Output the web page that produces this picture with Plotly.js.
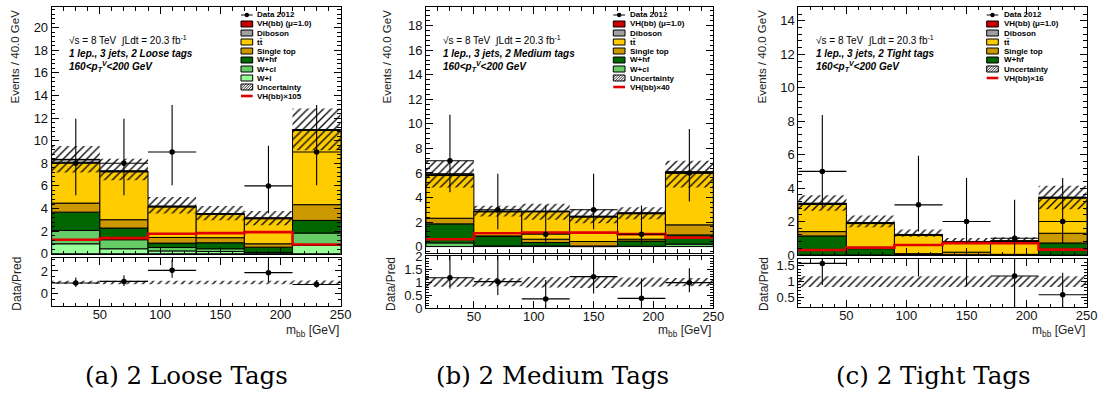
<!DOCTYPE html>
<html><head><meta charset="utf-8">
<script src="https://cdn.plot.ly/plotly-3.0.1.min.js"></script>
<style>html,body{margin:0;padding:0;background:#fff;}#chart{width:1098px;height:396px;}</style>
</head><body><div id="chart"></div>
<script>
// ---------- shared binning ----------
const binCenters = [30, 70, 110, 150, 190, 230];
const binEdges   = [10, 50, 90, 130, 170, 210, 250];

// ---------- panel (a) 2 Loose tags ----------
const wl_a  = [0.88, 0.44, 0.25, 0.20, 0.00, 0.73];
const wcl_a = [1.18, 0.80, 0.30, 0.24, 0.12, 1.10];
const whf_a = [1.62, 1.03, 0.39, 0.53, 0.46, 1.12];
const st_a  = [0.80, 0.74, 0.50, 0.45, 0.30, 1.39];
const tt_a  = [3.57, 4.24, 2.70, 2.07, 2.22, 6.56];
const db_a  = [0.28, 0.06, 0.05, 0.05, 0.05, 0.07];
const vh_a  = [0.02, 0.01, 0.02, 0.02, 0.02, 0.01];
const uncUp_a = [1.19, 1.09, 0.81, 0.67, 0.62, 1.86];
const uncDn_a = [1.16, 0.82, 0.65, 0.59, 0.65, 1.83];
const vhScaled_a = [1.24, 1.38, 1.77, 1.82, 1.91, 0.82];
const dataX_a  = [30, 70, 110, 190, 230];
const dataY_a  = [8, 8, 9, 6, 9];
const dataUp_a = [3.95, 3.95, 4.15, 3.55, 4.15];
const dataDn_a = [2.83, 2.83, 2.95, 2.42, 2.95];
const ratioY_a  = [0.95, 1.09, 2.05, 1.85, 0.82];
const ratioUp_a = [0.47, 0.54, 0.95, 1.10, 0.38];
const ratioDn_a = [0.34, 0.39, 0.65, 0.78, 0.27];
const ratioUnc_a = [0.14, 0.15, 0.15, 0.15, 0.15, 0.16];

// ---------- panel (b) 2 Medium tags ----------
const wcl_b = [0.30, 0.05, 0.05, 0.00, 0.02, 0.20];
const whf_b = [1.55, 0.77, 0.28, 0.05, 0.43, 0.75];
const st_b  = [0.46, 0.05, 0.27, 0.36, 0.15, 0.82];
const tt_b  = [3.48, 1.97, 2.24, 2.00, 2.08, 4.22];
const db_b  = [0.11, 0.02, 0.02, 0.04, 0.04, 0.08];
const vh_b  = [0.02, 0.03, 0.03, 0.03, 0.03, 0.02];
const uncUp_b = [1.07, 0.43, 0.59, 0.57, 0.46, 0.90];
const uncDn_b = [1.11, 0.44, 0.71, 0.58, 0.52, 1.28];
const vhScaled_b = [0.60, 1.09, 1.14, 1.14, 1.01, 0.73];
const dataX_b  = [30, 70, 110, 150, 190, 230];
const dataY_b  = [7, 3, 1, 3, 1, 6];
const dataUp_b = [3.74, 2.93, 2.35, 2.93, 2.35, 3.58];
const dataDn_b = [2.57, 1.58, 0.83, 1.58, 0.83, 2.33];
const ratioY_b  = [1.17, 1.02, 0.36, 1.21, 0.38, 0.98];
const ratioUp_b = [0.90, 1.03, 0.72, 1.19, 0.77, 0.55];
const ratioDn_b = [0.41, 0.51, 0.36, 0.64, 0.38, 0.37];
const ratioUnc_b = [0.18, 0.16, 0.20, 0.22, 0.18, 0.16];

// ---------- panel (c) 2 Tight tags ----------
const whf_c = [1.14, 0.38, 0.03, 0.02, 0.01, 0.72];
const st_c  = [0.26, 0.05, 0.05, 0.15, 0.03, 0.58];
const tt_c  = [1.62, 1.45, 1.10, 0.60, 0.78, 2.10];
const db_c  = [0.06, 0.03, 0.02, 0.01, 0.01, 0.04];
const vh_c  = [0.02, 0.03, 0.03, 0.03, 0.02, 0.02];
const uncUp_c = [0.48, 0.42, 0.30, 0.20, 0.21, 0.68];
const uncDn_c = [0.46, 0.28, 0.14, 0.15, 0.15, 0.72];
const vhScaled_c = [0.30, 0.44, 0.60, 0.71, 0.70, 0.32];
const dataX_c  = [30, 110, 150, 190, 230];
const dataY_c  = [5, 3, 2, 1, 2];
const dataUp_c = [3.38, 2.94, 2.60, 2.30, 2.60];
const dataDn_c = [2.16, 1.60, 1.30, 0.83, 1.30];
const ratioX_c  = [30, 110, 150, 190, 230];
const ratioY_c  = [1.58, 2.50, 2.50, 1.18, 0.58];
const ratioUp_c = [1.10, 2.40, 3.20, 2.70, 0.70];
const ratioDn_c = [0.69, 1.34, 1.65, 1.00, 0.40];
const ratioUnc_c = [0.17, 0.17, 0.17, 0.17, 0.17, 0.17];

// ---------- text ----------
const captions = ['(a) 2 Loose Tags', '(b) 2 Medium Tags', '(c) 2 Tight Tags'];
const regionLabels = ['1 lep., 3 jets, 2 Loose tags', '1 lep., 3 jets, 2 Medium tags', '1 lep., 3 jets, 2 Tight tags'];
const scaleLabels = ['VH(bb)×105', 'VH(bb)×40', 'VH(bb)×16'];

// ---------- colours ----------
const colWL = '#99ff99', colWCL = '#66cc66', colWHF = '#006600', colST = '#cc9900',
      colTT = '#ffcc00', colDB = '#a0a0a0', colVH = '#cc0000', colRed = '#e00000';

// ---------- geometry (pixels) ----------
const W = 1098, H = 396;
const fx = p => p / W, fy = p => 1 - p / H;
const geo = [
  {x0: 51.7, x1: 340.7, mTop: 7.3, mBot: 254.3, rTop: 258.3, rBot: 306, yr: [-0.05, 21.8], rr: [-1.05, 3.1], rd: 2, rminor: 0.5,
   legBox: [241, 252.7], legText: 255, txtX: 66.7, ytX: 15, dpX: 16.7, capX: 186},
  {x0: 426, x1: 713.3, mTop: 7.3, mBot: 252.7, rTop: 256, rBot: 308.3, yr: [-0.5, 19.5], rr: [0, 2], rd: 0.5, rminor: 0.1,
   legBox: [613.3, 625], legText: 628.3, txtX: 440.7, ytX: 387, dpX: 391, capX: 552},
  {x0: 798.3, x1: 1086.7, mTop: 6.7, mBot: 255, rTop: 259, rBot: 307.3, yr: [0, 14.85], rr: [0.18, 1.72], rd: 0.5, rminor: 0.1,
   legBox: [986.7, 998.3], legText: 1001.7, txtX: 814, ytX: 762, dpX: 764, capX: 933}
];

const panels = [
  {comps: [[wl_a, colWL], [wcl_a, colWCL], [whf_a, colWHF], [st_a, colST], [tt_a, colTT], [db_a, colDB], [vh_a, colVH]],
   up: uncUp_a, dn: uncDn_a, red: vhScaled_a, dx: dataX_a, dy: dataY_a, dup: dataUp_a, ddn: dataDn_a,
   rx: dataX_a, ry: ratioY_a, rup: ratioUp_a, rdn: ratioDn_a, runc: ratioUnc_a,
   legend: [['data', null, 'Data 2012'], ['box', colVH, 'VH(bb) (μ=1.0)'], ['box', colDB, 'Diboson'], ['box', colTT, 'tt\u0304'],
            ['box', colST, 'Single top'], ['box', colWHF, 'W+hf'], ['box', colWCL, 'W+cl'], ['box', colWL, 'W+l'],
            ['hatch', null, 'Uncertainty'], ['line', colRed, scaleLabels[0]]]},
  {comps: [[wcl_b, colWCL], [whf_b, colWHF], [st_b, colST], [tt_b, colTT], [db_b, colDB], [vh_b, colVH]],
   up: uncUp_b, dn: uncDn_b, red: vhScaled_b, dx: dataX_b, dy: dataY_b, dup: dataUp_b, ddn: dataDn_b,
   rx: dataX_b, ry: ratioY_b, rup: ratioUp_b, rdn: ratioDn_b, runc: ratioUnc_b,
   legend: [['data', null, 'Data 2012'], ['box', colVH, 'VH(bb) (μ=1.0)'], ['box', colDB, 'Diboson'], ['box', colTT, 'tt\u0304'],
            ['box', colST, 'Single top'], ['box', colWHF, 'W+hf'], ['box', colWCL, 'W+cl'],
            ['hatch', null, 'Uncertainty'], ['line', colRed, scaleLabels[1]]]},
  {comps: [[whf_c, colWHF], [st_c, colST], [tt_c, colTT], [db_c, colDB], [vh_c, colVH]],
   up: uncUp_c, dn: uncDn_c, red: vhScaled_c, dx: dataX_c, dy: dataY_c, dup: dataUp_c, ddn: dataDn_c,
   rx: ratioX_c, ry: ratioY_c, rup: ratioUp_c, rdn: ratioDn_c, runc: ratioUnc_c,
   legend: [['data', null, 'Data 2012'], ['box', colVH, 'VH(bb) (μ=1.0)'], ['box', colDB, 'Diboson'], ['box', colTT, 'tt\u0304'],
            ['box', colST, 'Single top'], ['box', colWHF, 'W+hf'],
            ['hatch', null, 'Uncertainty'], ['line', colRed, scaleLabels[2]]]}
];

const FONT = "'Liberation Sans', Arial, Helvetica, sans-serif";
const traces = [], shapes = [], annotations = [];
const layout = {
  width: W, height: H, margin: {l: 0, r: 0, t: 0, b: 0},
  paper_bgcolor: '#fff', plot_bgcolor: '#fff', showlegend: false, barmode: 'overlay',
  font: {family: FONT, size: 13, color: '#000'}
};
const an = n => n === 1 ? '' : String(n);
const hatchPattern = {shape: '/', fgcolor: '#000', bgcolor: 'rgba(0,0,0,0)', size: 5.5, solidity: 0.24};

function axisBase() {
  return {showline: true, linecolor: '#000', linewidth: 1, mirror: 'allticks', ticks: 'inside', ticklen: 7,
          tickcolor: '#000', tickwidth: 1, showgrid: false, zeroline: false, fixedrange: true,
          tickfont: {family: FONT, size: 13, color: '#111'}};
}

panels.forEach((P, k) => {
  const g = geo[k];
  const mi = 2 * k + 1, ri = 2 * k + 2;
  const xm = 'x' + an(mi), ym = 'y' + an(mi), xr = 'x' + an(ri), yr = 'y' + an(ri);

  const base = binCenters.map(() => 0);
  P.comps.forEach(([vals, col]) => {
    traces.push({type: 'bar', x: binCenters, y: vals, base: base.slice(), width: 40, xaxis: xm, yaxis: ym,
      marker: {color: col, line: {color: '#000', width: 1}}, hoverinfo: 'skip'});
    vals.forEach((v, i) => base[i] += v);
  });
  const total = base;
  traces.push({type: 'bar', x: binCenters, y: total.map((t, i) => P.up[i] + P.dn[i]), base: total.map((t, i) => t - P.dn[i]),
    width: 40, xaxis: xm, yaxis: ym, hoverinfo: 'skip',
    marker: {color: 'rgba(0,0,0,0)', line: {width: 0}, pattern: hatchPattern}});
  traces.push({type: 'scatter', mode: 'lines', x: binEdges, y: P.red.concat([P.red[P.red.length - 1]]),
    line: {shape: 'hv', color: colRed, width: 2.6}, xaxis: xm, yaxis: ym, hoverinfo: 'skip'});
  traces.push({type: 'scatter', mode: 'markers', x: P.dx, y: P.dy, xaxis: xm, yaxis: ym,
    marker: {color: '#000', size: 5.5},
    error_y: {type: 'data', symmetric: false, array: P.dup, arrayminus: P.ddn, width: 0, thickness: 1.1, color: '#000'},
    error_x: {type: 'constant', value: 20, width: 0, thickness: 1.1, color: '#000'}});

  traces.push({type: 'bar', x: binCenters, y: P.runc.map(u => 2 * u), base: P.runc.map(u => 1 - u),
    width: 40, xaxis: xr, yaxis: yr, hoverinfo: 'skip',
    marker: {color: 'rgba(0,0,0,0)', line: {width: 0}, pattern: hatchPattern}});
  traces.push({type: 'scatter', mode: 'markers', x: P.rx, y: P.ry, xaxis: xr, yaxis: yr,
    marker: {color: '#000', size: 5.5},
    error_y: {type: 'data', symmetric: false, array: P.rup, arrayminus: P.rdn, width: 0, thickness: 1.1, color: '#000'},
    error_x: {type: 'constant', value: 20, width: 0, thickness: 1.1, color: '#000'}});

  const xminor = {ticks: 'inside', ticklen: 3.5, dtick: 10, tick0: 0, tickcolor: '#000'};
  layout['xaxis' + an(mi)] = Object.assign(axisBase(), {domain: [fx(g.x0), fx(g.x1)], anchor: ym, range: [10, 250],
    dtick: 50, tick0: 0, showticklabels: false, minor: xminor});
  layout['yaxis' + an(mi)] = Object.assign(axisBase(), {domain: [fy(g.mBot), fy(g.mTop)], anchor: xm, range: g.yr,
    dtick: 2, tick0: 0, minor: {ticks: 'inside', ticklen: 3.5, dtick: 0.4, tick0: 0, tickcolor: '#000'}});
  layout['xaxis' + an(ri)] = Object.assign(axisBase(), {domain: [fx(g.x0), fx(g.x1)], anchor: yr, range: [10, 250],
    dtick: 50, tick0: 0, showticklabels: true, ticklabelstandoff: -4, minor: xminor});
  layout['yaxis' + an(ri)] = Object.assign(axisBase(), {domain: [fy(g.rBot), fy(g.rTop)], anchor: xr, range: g.rr,
    dtick: g.rd, tick0: 0, ticklen: 6, minor: {ticks: 'inside', ticklen: 3, dtick: g.rminor, tick0: 0, tickcolor: '#000'}});

  const A = (text, x, y, o) => annotations.push(Object.assign({text, x: fx(x), y: fy(y), xref: 'paper', yref: 'paper',
    showarrow: false, xanchor: 'left', yanchor: 'middle', font: {family: FONT, size: 10, color: '#000'}}, o || {}));
  A('√s = 8 TeV  ∫Ldt = 20.3 fb<sup>-1</sup>', g.txtX, 40);
  A('<b><i>' + regionLabels[k] + '</i></b>', g.txtX, 53.3);
  A('<b><i>160&lt;p<sub>T</sub><sup>V</sup>&lt;200 GeV</i></b>', g.txtX, 66.5);
  A('Events / 40.0 GeV', g.ytX, 7.5, {textangle: -90, xanchor: 'center', yanchor: 'top', font: {family: FONT, size: 11.5, color: '#222'}});
  A('Data/Pred', g.dpX, 284, {textangle: -90, xanchor: 'center', yanchor: 'middle', font: {family: FONT, size: 12, color: '#222'}});
  A('m<sub>bb</sub> [GeV]', g.x1, 331, {xanchor: 'right', font: {family: FONT, size: 12, color: '#222'}});
  A(captions[k], g.capX, 375, {xanchor: 'center', font: {family: "'DejaVu Serif', serif", size: 24.5, color: '#000'}});

  const [bx0, bx1] = g.legBox;
  P.legend.forEach(([kind, col, label], i) => {
    const yc = 15 + i * 9;
    const rect = (fill) => shapes.push({type: 'rect', xref: 'paper', yref: 'paper', x0: fx(bx0), x1: fx(bx1),
      y0: fy(yc + 3), y1: fy(yc - 3), fillcolor: fill, line: {color: '#000', width: 1}});
    if (kind === 'box') rect(col);
    if (kind === 'data') {
      shapes.push({type: 'line', xref: 'paper', yref: 'paper', x0: fx(bx0), x1: fx(bx1), y0: fy(yc), y1: fy(yc), line: {color: '#000', width: 1}});
      const cx = (bx0 + bx1) / 2;
      shapes.push({type: 'circle', xref: 'paper', yref: 'paper', x0: fx(cx - 2.2), x1: fx(cx + 2.2), y0: fy(yc + 2.2), y1: fy(yc - 2.2),
        fillcolor: '#000', line: {color: '#000', width: 0}});
    }
    if (kind === 'line') shapes.push({type: 'line', xref: 'paper', yref: 'paper', x0: fx(bx0), x1: fx(bx1), y0: fy(yc), y1: fy(yc),
      line: {color: col, width: 2.6}});
    if (kind === 'hatch') {
      rect('#fff');
      const t = yc - 3, b = yc + 3, h = b - t;
      let path = '';
      for (let s = bx0 - h; s < bx1; s += 2.6) {
        const u0 = Math.max(0, bx0 - s), u1 = Math.min(h, bx1 - s);
        if (u1 > u0) path += `M${fx(s + u0)},${fy(b - u0)} L${fx(s + u1)},${fy(b - u1)} `;
      }
      shapes.push({type: 'path', xref: 'paper', yref: 'paper', path, line: {color: '#000', width: 0.8}});
    }
    A('<b>' + label + '</b>', g.legText, yc, {font: {family: FONT, size: 8, color: '#000'}});
  });
});

layout.shapes = shapes;
layout.annotations = annotations;
Plotly.newPlot('chart', traces, layout, {staticPlot: true, displayModeBar: false});
</script>
</body></html>
